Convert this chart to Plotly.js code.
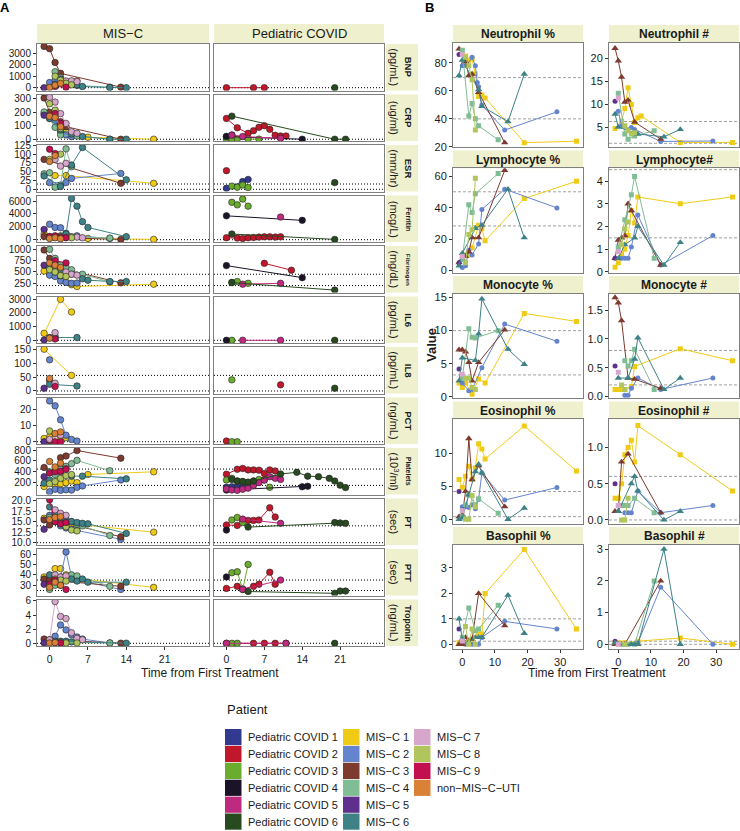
<!DOCTYPE html>
<html><head><meta charset="utf-8">
<script src="https://cdn.plot.ly/plotly-3.0.1.min.js"></script>
<style>html,body{margin:0;padding:0;background:#fff}#chart{width:740px;height:831px}</style>
</head><body><div id="chart"></div>
<script>
// ---------------- DATA ----------------
const patients = ["Pediatric COVID 1","Pediatric COVID 2","Pediatric COVID 3","Pediatric COVID 4","Pediatric COVID 5","Pediatric COVID 6",
  "MIS-C 1","MIS-C 2","MIS-C 3","MIS-C 4","MIS-C 5","MIS-C 6","MIS-C 7","MIS-C 8","MIS-C 9","non-MIS-C-UTI"];
const patientColors = ["#323A8F","#C0182A","#6AAC2E","#1B1429","#BE2A80","#284A20",
  "#F0CB16","#6485CE","#7D3A2E","#80BC94","#5E2F8C","#3E8287","#D6A6CB","#B0C55C","#C10F4F","#DA8138"];

const measuresA = ["BNP","CRP","ESR","Ferritin","Fibrinogen","IL6","IL8","PCT","Platelets","PT","PTT","Troponin"];
const unitsA = ["(pg/mL)","(ug/ml)","(mm/hr)","(mcg/L)","(mg/dL)","(pg/mL)","(pg/mL)","(ng/mL)","(10<sup>3</sup>/ml)","(sec)","(sec)","(ng/mL)"];
const yTicksA = [[0,1000,2000,3000],[0,100,200,300],[0,25,50,75,100,125],[0,2000,4000,6000],[250,500,750,1000],[0,1000,2000,3000],[0,50,100,150],[0,10,20],[200,400,600,800],[10,12.5,15,17.5,20],[30,40,50,60],[0,2,4,6]];
const refLinesA = [[0],[0],[0,15],[0],[200,450],[0],[0,56],[0],[150,450],[10,14],[25,35],[0]];
const xTicksA = [0,7,14,21];

// each entry: patient -> [days, values]
const bnp = {
  "Pediatric COVID 2":[[0,5,7],[0,0,0]],
  "Pediatric COVID 6":[[20],[0]],
  "MIS-C 1":[[0,3,4,5],[100,300,450,600]],
  "MIS-C 2":[[0,1,2,3],[450,650,500,300]],
  "MIS-C 3":[[-1,0,1,2,13],[3600,3400,2200,1250,50]],
  "MIS-C 4":[[1,2,3,4,5,11],[1400,900,500,350,200,50]],
  "MIS-C 5":[[-1],[0]],
  "MIS-C 6":[[1,2,5,6,11,14],[300,750,250,100,20,0]],
  "MIS-C 7":[[2,3,4,5],[700,580,600,530]],
  "MIS-C 8":[[1,2,3,4],[1000,650,380,250]],
  "MIS-C 9":[[1,3],[100,50]],
  "non-MIS-C-UTI":[[0,1,2],[20,220,380]]
};
const crp = {
  "Pediatric COVID 1":[[0,1],[20,32]],
  "Pediatric COVID 2":[[0,2,4,5,6,7,8,9,10,11],[154,85,44,63,88,100,73,29,24,24]],
  "Pediatric COVID 3":[[0,1,2,4,6],[3,2,2,1,1]],
  "Pediatric COVID 4":[[0,14],[20,0]],
  "Pediatric COVID 5":[[1,3,10],[30,20,7]],
  "Pediatric COVID 6":[[1,20,22],[171,0,0]],
  "MIS-C 1":[[1,2,3,4,7,19],[161,117,56,39,15,0]],
  "MIS-C 2":[[-1,0,1,2,3,4],[190,154,140,56,32,20]],
  "MIS-C 3":[[-1,0,1,2,3,13],[305,200,178,130,93,0]],
  "MIS-C 4":[[-1,1,2,5,11],[202,88,32,24,0]],
  "MIS-C 5":[[-1],[178]],
  "MIS-C 6":[[0,2,4,6,11,14],[154,68,39,20,0,0]],
  "MIS-C 7":[[0,1,2,3,4,5],[310,275,190,117,56,44]],
  "MIS-C 8":[[0,1,2],[263,215,80]],
  "MIS-C 9":[[1,2],[190,117]],
  "non-MIS-C-UTI":[[0,1,2],[170,160,93]]
};
const esr = {
  "Pediatric COVID 1":[[0,3,4],[3,22,28]],
  "Pediatric COVID 2":[[0],[53]],
  "Pediatric COVID 3":[[1,2,3,4],[9,6,12,5]],
  "Pediatric COVID 6":[[20],[19]],
  "MIS-C 1":[[1,3,19],[39,39,17]],
  "MIS-C 2":[[0,3,4,13],[19,19,31,45]],
  "MIS-C 3":[[-1,13],[85,17]],
  "MIS-C 4":[[-1,0,1,2,3,4],[44,47,6,12,115,64]],
  "MIS-C 6":[[-1,2,4,6,14],[38,8,69,119,27]],
  "MIS-C 7":[[1,2,3],[85,66,74]],
  "MIS-C 8":[[0,2],[85,100]],
  "MIS-C 9":[[0,1],[114,102]],
  "non-MIS-C-UTI":[[0,1],[79,96]]
};
const ferritin = {
  "Pediatric COVID 2":[[0,2,3,4,5,6,7,8,9,10],[300,250,200,300,350,400,450,450,400,450]],
  "Pediatric COVID 3":[[1,2,3,4],[5800,5400,6300,5200]],
  "Pediatric COVID 4":[[0,14],[3700,3000]],
  "Pediatric COVID 5":[[10],[3500]],
  "Pediatric COVID 6":[[1,20],[880,50]],
  "MIS-C 1":[[-1,7,19],[880,200,50]],
  "MIS-C 2":[[0,1,2,3,5,11],[2400,1900,1850,1000,600,200]],
  "MIS-C 3":[[-1,0,1,2,13],[500,450,400,300,50]],
  "MIS-C 4":[[0,2,3,4,11],[300,600,500,450,250]],
  "MIS-C 5":[[-1],[1600]],
  "MIS-C 6":[[3,4,5,6,7,14],[880,6400,5200,2800,1900,470]],
  "MIS-C 7":[[1,2,4,5,6],[400,500,450,400,300]],
  "MIS-C 8":[[1,2,3,4],[500,400,350,300]],
  "MIS-C 9":[[0,1,2,3],[500,600,350,300]],
  "non-MIS-C-UTI":[[0,1,2],[200,300,150]]
};
const fibrinogen = {
  "Pediatric COVID 2":[[7,12],[690,540]],
  "Pediatric COVID 3":[[1,2,4],[270,290,250]],
  "Pediatric COVID 4":[[0,14],[640,375]],
  "Pediatric COVID 5":[[3,10],[230,250]],
  "Pediatric COVID 6":[[1,20],[265,100]],
  "MIS-C 1":[[-1,1,2,3,4,5,19],[520,600,550,450,220,180,230]],
  "MIS-C 2":[[0,1,2,3,4,5],[430,400,300,270,250,255]],
  "MIS-C 3":[[-1,0,1,2,3,13],[985,800,700,600,550,260]],
  "MIS-C 4":[[0,1,2,3,4,6,11],[1000,800,650,600,550,450,280]],
  "MIS-C 5":[[-1,1,2],[650,500,420]],
  "MIS-C 6":[[0,2,4,6,7,11,14],[600,550,450,350,320,290,290]],
  "MIS-C 7":[[3,4,5],[500,450,430]],
  "MIS-C 8":[[0,1,2,3],[550,500,420,400]],
  "MIS-C 9":[[1,3],[750,700]],
  "non-MIS-C-UTI":[[0,1,2],[700,650,600]]
};
const il6 = {
  "Pediatric COVID 3":[[1],[0]],
  "Pediatric COVID 4":[[0],[0]],
  "Pediatric COVID 5":[[3,10],[0,0]],
  "Pediatric COVID 6":[[20],[0]],
  "MIS-C 1":[[-1,2,4],[510,3000,2070]],
  "MIS-C 3":[[0],[200]],
  "MIS-C 4":[[1],[300]],
  "MIS-C 5":[[-1],[20]],
  "MIS-C 6":[[1,5],[200,200]],
  "MIS-C 7":[[1],[560]],
  "MIS-C 9":[[1],[100]],
  "non-MIS-C-UTI":[[0],[150]]
};
const il8 = {
  "Pediatric COVID 2":[[10],[22]],
  "Pediatric COVID 3":[[1],[40]],
  "Pediatric COVID 6":[[20],[10]],
  "MIS-C 1":[[-1,4],[150,56]],
  "MIS-C 2":[[0],[112]],
  "MIS-C 3":[[0],[38]],
  "MIS-C 5":[[-1],[10]],
  "MIS-C 6":[[0,5],[24,18]],
  "MIS-C 7":[[1],[28]],
  "MIS-C 9":[[1],[16]],
  "non-MIS-C-UTI":[[0],[45]]
};
const pct = {
  "Pediatric COVID 2":[[0],[0.4]],
  "Pediatric COVID 3":[[1,2],[0,0]],
  "MIS-C 1":[[-1,0,2,3],[2,3,3,2.5]],
  "MIS-C 2":[[0,1,2,3,4,5],[25,22,13.4,4,1.4,0.4]],
  "MIS-C 3":[[0],[0.5]],
  "MIS-C 5":[[-1],[0]],
  "MIS-C 7":[[0,2],[1.5,4]],
  "MIS-C 8":[[0],[6.6]],
  "MIS-C 9":[[1,2],[0,0]],
  "non-MIS-C-UTI":[[1,2],[5,6]]
};
const platelets = {
  "Pediatric COVID 1":[[0,1,2,3],[115,125,120,125]],
  "Pediatric COVID 2":[[0,2,3,4,5,6,7,8,9],[355,445,460,435,435,430,370,435,415]],
  "Pediatric COVID 3":[[0,1,2,3,4,5,6,7,8],[250,280,230,220,200,230,260,250,115]],
  "Pediatric COVID 4":[[0,14,15],[65,125,135]],
  "Pediatric COVID 5":[[0,1,2,3,4,5,6,7,8,9,10],[85,65,60,80,100,150,200,250,310,280,260]],
  "Pediatric COVID 6":[[1,2,3,4,5,10,13,15,17,19,20,21,22],[260,230,220,210,230,360,390,320,310,280,230,155,110]],
  "MIS-C 1":[[-1,1,2,3,4,5,7,19],[130,150,180,200,230,200,350,400]],
  "MIS-C 2":[[0,1,2,3,4,5,6,13],[35,80,60,70,65,115,140,250]],
  "MIS-C 3":[[-1,1,2,3,5,13],[480,400,660,690,790,650]],
  "MIS-C 4":[[0,1,2,3,4,5,11],[400,350,450,500,550,610,420]],
  "MIS-C 5":[[-1],[310]],
  "MIS-C 6":[[-1,0,4,6,14],[190,250,320,320,270]],
  "MIS-C 7":[[2,3],[400,460]],
  "MIS-C 8":[[0,1,2,3,4],[180,220,280,330,350]],
  "MIS-C 9":[[0,1,2,3],[380,400,410,445]],
  "non-MIS-C-UTI":[[0,1,2],[590,490,560]]
};
const pt = {
  "Pediatric COVID 2":[[0,2,3,4,5,6,8,9],[14.2,14.1,15.3,15.3,15.3,15.4,18.3,16.1]],
  "Pediatric COVID 3":[[1,2,3],[15.4,16,14.8]],
  "Pediatric COVID 4":[[0],[13.0]],
  "Pediatric COVID 5":[[3,10],[15.6,14.6]],
  "Pediatric COVID 6":[[4,20,21,22],[13.7,14.8,14.7,14.6]],
  "MIS-C 1":[[-1,1,2,3,4,19],[15.8,15.5,16.8,15.2,14.5,12.5]],
  "MIS-C 2":[[0,1,2,3,4,5,13],[16.5,15,14,13.5,13.2,12.9,10.8]],
  "MIS-C 3":[[-1,0,1,2,13],[15.4,14.2,15.5,15,11.4]],
  "MIS-C 4":[[0,1,2,3,4,5,6,11],[16,17.5,15.8,15.3,15,14.4,14,11.7]],
  "MIS-C 5":[[-1],[13.2]],
  "MIS-C 6":[[0,1,2,3,4,5,6,7,14],[18.5,16.8,16.5,15.5,15,14.8,14.6,14.5,12.2]],
  "MIS-C 7":[[1,2,3],[17.8,17,16.5]],
  "MIS-C 8":[[2,3,4,5],[14.5,13.8,13,12.8]],
  "MIS-C 9":[[0,1,2,3],[20.2,15,14.5,14.8]],
  "non-MIS-C-UTI":[[0,1,2],[15.5,16,16.2]]
};
const ptt = {
  "Pediatric COVID 2":[[0,2,3,5,6,8,9],[27,29,26.5,29,31,42.5,31]],
  "Pediatric COVID 3":[[1,2,3,4],[42,43,26,50]],
  "Pediatric COVID 4":[[0],[38]],
  "Pediatric COVID 5":[[3,10],[26,35]],
  "Pediatric COVID 6":[[4,20,21,22],[24,22.3,24.5,24.5]],
  "MIS-C 1":[[-1,0,1,2,3,4,19],[38,37,46,46,40,37,28]],
  "MIS-C 2":[[0,1,2,3,4,5,13],[35,34,38,62,38,35,26]],
  "MIS-C 3":[[-1,0,13],[36,35,29]],
  "MIS-C 4":[[0,1,3,4,5,11],[26,30,37,40,39,29]],
  "MIS-C 5":[[-1],[31]],
  "MIS-C 6":[[0,1,2,4,5,6,7,14],[40,39,36,36,34,36,33,33]],
  "MIS-C 7":[[1,2,3],[40,38,39]],
  "MIS-C 8":[[1,2,3],[36,35,34]],
  "MIS-C 9":[[0,1,2,3],[31,35,30,26]],
  "non-MIS-C-UTI":[[0,1,2],[28,33,30]]
};
const troponin = {
  "Pediatric COVID 2":[[0,5,7,9,11],[0,0,0,0,0]],
  "Pediatric COVID 3":[[1,2],[0,0]],
  "Pediatric COVID 5":[[0,11],[0,0]],
  "Pediatric COVID 6":[[20],[0]],
  "MIS-C 1":[[0,2,3],[0.2,0.15,0.1]],
  "MIS-C 2":[[1,2,3,4,5,6,11],[1.0,2.6,1.9,1.2,0.9,0.6,0.05]],
  "MIS-C 3":[[-1,0,13],[0.6,0.5,0.02]],
  "MIS-C 4":[[0,1,2,3,11],[0.2,0.2,0.2,0.1,0.05]],
  "MIS-C 5":[[-1],[0.05]],
  "MIS-C 6":[[1,2,3,4,14],[0.3,0.3,0.3,0.2,0.02]],
  "MIS-C 7":[[0,1,2,3,4,5,6],[0.5,5.9,3.8,3.5,1.5,0.7,0.5]],
  "MIS-C 8":[[2,3,5],[0.1,0.05,0.05]],
  "MIS-C 9":[[1,2],[0.1,0.05]],
  "non-MIS-C-UTI":[[0,1],[0.05,0.1]]
};
const dataA = [bnp,crp,esr,ferritin,fibrinogen,il6,il8,pct,platelets,pt,ptt,troponin];

// Panel B
const measuresB = ["Neutrophil %","Neutrophil #","Lymphocyte %","Lymphocyte#","Monocyte %","Monocyte #","Eosinophil %","Eosinophil #","Basophil %","Basophil #"];
const yTicksB = [[20,40,60,80],[5,10,15,20],[0,20,40,60],[0,1,2,3,4],[0,5,10,15],[0,0.5,1,1.5],[0,5,10],[0,0.5,1],[0,1,2,3],[0,1,2,3]];
const refLinesB = [[40,69.5],[1.6,6.3],[28.5,50.3],[1.5,4.5],[3.3,10],[0.2,0.8],[0.4,4.2],[0,0.6],[0.12,1],[0,0.1]];
const xTicksB = [0,10,20,30];

const neutPct = {
  "MIS-C 1":[[1,2,3,4,5,6,7,19,35],[85,82,83,72,56,57,55,23,24]],
  "MIS-C 2":[[0,1.3,3,4,4.6,5,6,13,29],[78,78,84,78,66,63,50,32,45]],
  "MIS-C 3":[[-1,1,2,3,5,13],[90,81,71,72,59,23]],
  "MIS-C 4":[[0,2,3,4,5,11],[89,42,51,40,35,25]],
  "MIS-C 5":[[-1],[86]],
  "MIS-C 6":[[-1,0,5,6,14,19],[71,82,61,49,38,72]],
  "MIS-C 7":[[0],[86]],
  "MIS-C 8":[[1,2,3,4],[84,78,68,32]]
};
const neutNum = {
  "MIS-C 1":[[-1,1,2,3,4,5,6,7,19,35],[4.8,6.4,9.1,13.6,10,6.1,7.1,7.5,1.8,1.8]],
  "MIS-C 2":[[0,1,3,4,5,13,29],[8.5,5.4,4.5,5.0,4.6,2.0,2.1]],
  "MIS-C 3":[[-1,0,1,2,3,5,13],[22.1,19.4,15.9,10.5,10.9,6.2,2.5]],
  "MIS-C 4":[[0,2,3,5,11],[12.4,3.6,2.5,3.2,4.3]],
  "MIS-C 5":[[-1],[10.7]],
  "MIS-C 6":[[-1,0,5,6,14,19],[7.9,5.1,3.9,3.6,3.0,4.6]],
  "MIS-C 7":[[0],[11.4]],
  "MIS-C 8":[[2,3,4,5],[5.4,4.3,3.6,3.9]]
};
const lymphPct = {
  "MIS-C 1":[[0,1,2,3,5,6,7,19,35],[8,10,10,14.5,29,27,19,46,57]],
  "MIS-C 2":[[0,1,2,3,5,6,13,29],[2,3,13,10,17,39,52,40]],
  "MIS-C 3":[[-1,0,1,2,3,5,13],[5,7,9,12,21,21,64]],
  "MIS-C 4":[[0,2,3,4,11],[7,42,37,49,62]],
  "MIS-C 5":[[-1],[5]],
  "MIS-C 6":[[-1,0,4,6,14,19],[3,11,27,29,52,21]],
  "MIS-C 7":[[0],[9]],
  "MIS-C 8":[[1,2,3,4],[5,23,26,59]]
};
const lymphNum = {
  "MIS-C 1":[[-1,0,1,2,3,4,5,6,19,35],[0.2,0.4,0.77,1.0,1.6,2.7,2.15,3.3,3.0,3.3]],
  "MIS-C 2":[[1,2,3,4,6,13,29],[0.6,0.6,0.6,1.1,2.5,0.3,1.6]],
  "MIS-C 3":[[-1,0,1,2,3,4,13],[0.6,1.4,1.5,1.6,3.0,2.7,0.3]],
  "MIS-C 4":[[0,2,4,5,11],[1.1,2.3,3.4,4.2,0.6]],
  "MIS-C 5":[[-1],[0.6]],
  "MIS-C 6":[[0,2,5,6,14,19],[0.6,1.2,1.5,2.0,0.3,1.3]],
  "MIS-C 7":[[0],[0.9]],
  "MIS-C 8":[[1,2,3],[1.2,1.9,2.2]]
};
const monoPct = {
  "MIS-C 1":[[-1,0,1,3,5,7,19,35],[2.1,1.4,2.1,0.4,2.7,2.1,12.6,11.4]],
  "MIS-C 2":[[0,2,3,6,13,29],[2.1,0.9,1.1,4.4,11,8.4]],
  "MIS-C 3":[[-1,0,1,2,3,5,13],[7.1,7.1,6.8,5.2,2.4,5.2,10.1]],
  "MIS-C 4":[[0,2,3,4,11],[2.8,10.3,9,8.9,10]],
  "MIS-C 5":[[-1],[4.2]],
  "MIS-C 6":[[-1,0,4,5,6,14,19],[2.4,5.9,5.5,9.5,14.8,7.2,4.9]],
  "MIS-C 7":[[0],[3.4]],
  "MIS-C 8":[[1,2,3,4],[2.8,2.8,1.4,1.1]]
};
const monoNum = {
  "MIS-C 1":[[-1,0,1,2,4,5,19,35],[0.12,0.12,0.12,0.12,0.17,0.52,0.83,0.62]],
  "MIS-C 2":[[2,3,4,6,13,29],[0.02,0.02,0.14,0.32,0.12,0.32]],
  "MIS-C 3":[[-1,0,1,3,5,13],[1.72,1.63,1.32,0.32,0.3,0.14]],
  "MIS-C 4":[[2,3,4,5,11],[0.62,0.53,0.62,0.82,0.12]],
  "MIS-C 5":[[-1],[0.53]],
  "MIS-C 6":[[0,3,5,6,14,19],[0.32,0.32,0.65,1.02,0.12,0.32]],
  "MIS-C 7":[[0],[0.42]],
  "MIS-C 8":[[1,2],[0.2,0.12]]
};
const eosPct = {
  "MIS-C 1":[[-1,0,1,2,3,4,5,6,7,19,35],[6,4.8,6.5,8,6,7.8,11.4,10.6,9.1,14.1,7.3]],
  "MIS-C 2":[[0,1,2,3,4,5,6,13,29],[1.9,1.9,1.8,2.2,1.6,3,7,2.9,4.8]],
  "MIS-C 3":[[-1,0,1,2,3,5,13],[0.4,0.7,4.2,12.2,6,8.1,1.9]],
  "MIS-C 4":[[0,1,2,4,5,11],[0.4,2.2,3.7,2.2,3.1,0.9]],
  "MIS-C 5":[[-1],[4.2]],
  "MIS-C 6":[[-1,0,2,4,5,6,14,19],[0,0.2,3.7,7.2,8.3,7,0,1.7]],
  "MIS-C 7":[[0],[1.3]],
  "MIS-C 8":[[1,2,3,4],[0,0,3.6,1.9]]
};
const eosNum = {
  "MIS-C 1":[[-1,0,1,2,3,4,5,6,19,35],[0.3,0.3,0.5,0.9,1.0,1.1,0.8,1.3,0.9,0.4]],
  "MIS-C 2":[[2,3,4,6,13,29],[0.1,0.1,0.1,0.4,0.1,0.2]],
  "MIS-C 3":[[-1,0,1,3,13],[0.12,0.12,0.8,0.91,0.1]],
  "MIS-C 4":[[1,2,3,5,11],[0.2,0.2,0.2,0.3,0.1]],
  "MIS-C 5":[[-1],[0.5]],
  "MIS-C 6":[[0,4,5,6,14,19],[0.12,0.5,0.6,0.4,0,0.12]],
  "MIS-C 7":[[0],[0.2]],
  "MIS-C 8":[[1,2,3],[0,0,0.3]]
};
const basoPct = {
  "MIS-C 1":[[-1,0,2,3,5,6,7,19,35],[0.07,0.07,0.16,0.2,0.4,0.4,2.0,3.73,0.6]],
  "MIS-C 2":[[0,1,3,5,6,13,29],[0.03,0,0,0,0.27,0.9,0.6]],
  "MIS-C 3":[[-1,0,1,2,3,5,13],[0,0,0.27,0.07,0.2,2.0,0.73]],
  "MIS-C 4":[[0,2,4,5,11],[0.27,1.43,0.53,0.6,1.53]],
  "MIS-C 5":[[-1],[0.6]],
  "MIS-C 6":[[-1,0,2,4,5,6,14,19],[1.0,0.2,0.07,0.27,0.27,0.27,1.93,0.43]],
  "MIS-C 7":[[0],[0.13]],
  "MIS-C 8":[[1,2,3,4],[0.7,0,0.6,0]]
};
const basoNum = {
  "MIS-C 1":[[-1,0,2,6,19,35],[0.05,0.05,0.05,0.1,0.2,0]],
  "MIS-C 2":[[2,6,13,29],[0,0.05,1.8,0]],
  "MIS-C 3":[[-1,0,1,2,13],[0,0,0,0,2.0]],
  "MIS-C 4":[[1,3,5,11],[0,0,0,2.0]],
  "MIS-C 5":[[-1],[0.1]],
  "MIS-C 6":[[-1,0,4,5,6,14,19],[0.05,0,0,0,0,3.0,0]],
  "MIS-C 7":[[0],[0]],
  "MIS-C 8":[[2],[0]]
};
const dataB = [neutPct,neutNum,lymphPct,lymphNum,monoPct,monoNum,eosPct,eosNum,basoPct,basoNum];

// ---------------- LAYOUT / STYLE ----------------
const W = 740, H = 831;
const FONT = "Liberation Sans, Arial, Helvetica, sans-serif";
const STRIP = "#EFF0CD";
const px = x => x / W, py = y => 1 - y / H;
const label = s => s.replace(/-/g, "\u2212");
const colorOf = p => patientColors[patients.indexOf(p)];
const symbolsB = {"MIS-C 1":"square","MIS-C 2":"circle","MIS-C 3":"triangle-up","MIS-C 4":"square","MIS-C 5":"circle","MIS-C 6":"triangle-up","MIS-C 7":"square","MIS-C 8":"square","MIS-C 9":"circle","non-MIS-C-UTI":"circle"};
const sizeB = {"circle":5,"square":5,"triangle-up":6.5};

const yRangesA = [[-244,3811],[-13,331],[-6.25,126],[-357,6853],[47,1073],[-198,3205],[-9,158],[-1.4,27.1],[-17,837],[9.45,20.5],[20.2,64.8],[-0.38,6.2]];
const yFmtA = ["","","","","","","","","",".1f","",""];
const nameSizeA = [9.5,9.5,9.5,7,6.2,9.5,9.5,9.5,7,9.5,9.5,8.5];
const yRangesB = [[19.8,94.4],[0.78,23.3],[-1.3,65.3],[-0.03,4.56],[-0.2,15.57],[-0.03,1.786],[-0.65,15.1],[-0.05,1.387],[-0.19,3.91],[-0.15,3.14]];
const yFmtB = ["","","","","",".1f","",".1f","",""];

const layout = {
  width: W, height: H, margin: {l:0, r:0, t:0, b:0},
  paper_bgcolor: "#ffffff", plot_bgcolor: "rgba(0,0,0,0)",
  showlegend: false, font: {family: FONT, color: "#1a1a1a", size: 10},
  shapes: [], annotations: []
};
const traces = [];
const sfx = k => (k === 1 ? "" : String(k));
function axisBase() {
  return {showgrid:false, zeroline:false, showline:true, mirror:true, linecolor:"#7f7f7f", linewidth:1,
    ticks:"outside", ticklen:3, tickwidth:1, tickcolor:"#333", tickfont:{size:10, color:"#1a1a1a", family:FONT}};
}
function ann(text, x, y, opts) {
  layout.annotations.push(Object.assign({text, x:px(x), y:py(y), xref:"paper", yref:"paper", showarrow:false,
    xanchor:"center", yanchor:"middle", font:{family:FONT, size:12, color:"#1a1a1a"}}, opts || {}));
}
function rect(x0, y0, x1, y1, fill) {
  layout.shapes.push({type:"rect", xref:"paper", yref:"paper", x0:px(x0), x1:px(x1), y0:py(y1), y1:py(y0),
    fillcolor:fill, line:{width:0}, layer:"below"});
}

// ---- Panel A ----
const colA = [[37,209],[214,384]];
const rowTopA = r => 44 + 50.5 * r, rowHA = 46.5;
let k = 0;
measuresA.forEach((m, r) => {
  const top = rowTopA(r), bot = top + rowHA;
  for (let c = 0; c < 2; c++) {
    k++;
    const s = sfx(k);
    layout["xaxis" + s] = Object.assign(axisBase(), {domain:[px(colA[c][0]), px(colA[c][1])], anchor:"y" + s,
      range:[-2.3, 29.1], tickvals:xTicksA, ticks: r === 11 ? "outside" : "", showticklabels: r === 11});
    layout["xaxis" + s].tickfont.size = 10.5;
    layout["yaxis" + s] = Object.assign(axisBase(), {domain:[py(bot), py(top)], anchor:"x" + s,
      range:yRangesA[r], tickvals:yTicksA[r], tickformat:yFmtA[r], ticks: c === 0 ? "outside" : "", showticklabels: c === 0});
    refLinesA[r].forEach(v => layout.shapes.push({type:"line", xref:"x" + s + " domain", x0:0, x1:1, yref:"y" + s, y0:v, y1:v,
      line:{color:"#000", width:1, dash:"1px,2px"}, layer:"below"}));
  }
  patients.forEach(p => {
    const d = dataA[r][p];
    if (!d) return;
    const c = p.startsWith("Pediatric") ? 1 : 0;
    const s = sfx(r * 2 + c + 1);
    traces.push({type:"scatter", mode:"lines+markers", x:d[0], y:d[1], xaxis:"x" + s, yaxis:"y" + s,
      line:{color:colorOf(p), width:1}, marker:{color:colorOf(p), size:6.5, line:{color:"#222", width:0.6}},
      hoverinfo:"skip"});
  });
  // right strip
  rect(386, top, 418, bot, STRIP);
  ann("<b>" + m + "</b>", 408.5, top + rowHA / 2, {textangle:90, font:{family:FONT, size:nameSizeA[r], color:"#1a1a1a"}});
  ann(unitsA[r], 394, top + rowHA / 2, {textangle:90, font:{family:FONT, size:11, color:"#1a1a1a"}});
});
// top strips A
rect(37, 24, 209, 43, STRIP); rect(214, 24, 384, 43, STRIP);
ann("MIS\u2212C", 123, 33.5, {font:{family:FONT, size:13, color:"#1a1a1a"}});
ann("Pediatric COVID", 299, 33.5, {font:{family:FONT, size:13, color:"#1a1a1a"}});
ann("Time from First Treatment", 210, 673, {font:{family:FONT, size:12, color:"#1a1a1a"}});
ann("<b>A</b>", 5, 8, {font:{family:FONT, size:13, color:"#000"}});

// ---- Panel B ----
const colB = [[453,583],[609,739]];
const stripTopB = r => 25 + 125.5 * r;
measuresB.forEach((m, i) => {
  const r = Math.floor(i / 2), c = i % 2;
  k++;
  const s = sfx(k);
  const st = stripTopB(r), top = st + 17.8, bot = top + 104.3;
  layout["xaxis" + s] = Object.assign(axisBase(), {domain:[px(colB[c][0]), px(colB[c][1])], anchor:"y" + s,
    range:[-2.85, 37], tickvals:xTicksB, ticks: r === 4 ? "outside" : "", showticklabels: r === 4});
  layout["xaxis" + s].tickfont.size = 11;
  layout["yaxis" + s] = Object.assign(axisBase(), {domain:[py(bot), py(top)], anchor:"x" + s,
    range:yRangesB[i], tickvals:yTicksB[i], tickformat:yFmtB[i]});
  layout["yaxis" + s].tickfont.size = 11;
  refLinesB[i].forEach(v => layout.shapes.push({type:"line", xref:"x" + s + " domain", x0:0, x1:1, yref:"y" + s, y0:v, y1:v,
    line:{color:"#888", width:0.8, dash:"3px,2px"}, layer:"below"}));
  patients.forEach(p => {
    const d = dataB[i][p];
    if (!d) return;
    const sym = symbolsB[p];
    traces.push({type:"scatter", mode:"lines+markers", x:d[0], y:d[1], xaxis:"x" + s, yaxis:"y" + s,
      line:{color:colorOf(p), width:1}, marker:{color:colorOf(p), size:sizeB[sym], symbol:sym, line:{width:0}},
      hoverinfo:"skip"});
  });
  rect(colB[c][0], st, colB[c][1], st + 17.8, STRIP);
  ann("<b>" + m + "</b>", (colB[c][0] + colB[c][1]) / 2, st + 9, {font:{family:FONT, size:12, color:"#1a1a1a"}});
});
ann("<b>Value</b>", 431, 345, {textangle:-90, font:{family:FONT, size:13, color:"#1a1a1a"}});
ann("Time from First Treatment", 597, 673, {font:{family:FONT, size:12, color:"#1a1a1a"}});
ann("<b>B</b>", 429, 8, {font:{family:FONT, size:13, color:"#000"}});

// ---- Legend ----
ann("Patient", 225, 709, {xanchor:"left", font:{family:FONT, size:13, color:"#1a1a1a"}});
const legCols = [[0,6],[6,12],[12,16]];
const legKeyX = [225, 343, 414], legTextX = [246, 363.5, 434.5];
legCols.forEach((rg, ci) => {
  for (let j = rg[0]; j < rg[1]; j++) {
    const row = j - rg[0];
    const y0 = 729 + 16.9 * row;
    rect(legKeyX[ci], y0, legKeyX[ci] + 16.5, y0 + 16.2, patientColors[j]);
    ann(label(patients[j]), legTextX[ci], y0 + 8.3, {xanchor:"left", font:{family:FONT, size:11, color:"#1a1a1a"}});
  }
});

Plotly.newPlot("chart", traces, layout, {displayModeBar:false, staticPlot:true});
</script>
</body></html>
